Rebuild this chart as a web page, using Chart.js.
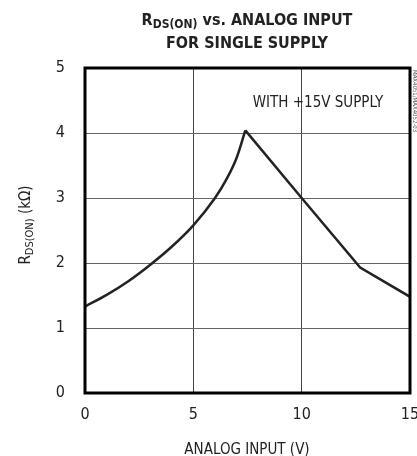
<!DOCTYPE html>
<html>
<head>
<meta charset="utf-8">
<script src="https://cdn.jsdelivr.net/npm/chart.js@4/dist/chart.umd.min.js"></script>
<style>
  body { margin: 0; background: #fff; }
  #wrap { width: 417px; height: 456px; }
</style>
</head>
<body>
<div id="wrap"><canvas id="rdsChart" width="417" height="456"></canvas></div>
<script>
// ---- data ----
const riseX = [0, 1, 2, 3, 4, 5, 6, 6.5, 7, 7.4]
const riseY = [1.33, 1.51, 1.72, 1.97, 2.25, 2.58, 3.0, 3.27, 3.62, 4.04]
const fallX = [7.4, 10, 12.7, 15]
const fallY = [4.04, 3.0, 1.93, 1.48]
const xTicks = [0, 5, 10, 15]
const yTicks = [0, 1, 2, 3, 4, 5]

const FONT = '"Liberation Sans Narrow", "DejaVu Sans Condensed", "Liberation Sans", sans-serif'
const INK = '#222'

const toPoints = (xs, ys) => xs.map((x, i) => ({ x: x, y: ys[i] }))

// text with a subscript part, centred on (x, y)
const drawRich = (ctx, parts, x, y) => {
  let total = 0
  parts.forEach(p => { ctx.font = p.font; total += ctx.measureText(p.t).width })
  let cx = x - total / 2
  ctx.textAlign = 'left'
  ctx.textBaseline = 'alphabetic'
  parts.forEach(p => {
    ctx.font = p.font
    ctx.fillText(p.t, cx, y + (p.dy || 0))
    cx += ctx.measureText(p.t).width
  })
}

const textPlugin = {
  id: 'texts',
  afterDraw(chart) {
    const ctx = chart.ctx
    const a = chart.chartArea
    ctx.save()
    ctx.fillStyle = INK

    // frame
    ctx.strokeStyle = '#000'
    ctx.lineWidth = 3
    ctx.strokeRect(a.left, a.top, a.right - a.left, a.bottom - a.top)

    // title
    const big = 'bold 16px ' + FONT
    const small = 'bold 12px ' + FONT
    drawRich(ctx, [
      { t: 'R', font: big },
      { t: 'DS(ON)', font: small, dy: 3 },
      { t: ' vs. ANALOG INPUT', font: big }
    ], 247, 25)
    drawRich(ctx, [{ t: 'FOR SINGLE SUPPLY', font: big }], 247, 48)

    // note inside the plot
    drawRich(ctx, [{ t: 'WITH +15V SUPPLY', font: '15px ' + FONT }], 318, 107)

    // x axis title
    drawRich(ctx, [{ t: 'ANALOG INPUT (V)', font: '15px ' + FONT }], 247, 454)

    // y axis title (rotated)
    ctx.save()
    ctx.translate(30, 225)
    ctx.rotate(-Math.PI / 2)
    drawRich(ctx, [
      { t: 'R', font: '15px ' + FONT },
      { t: 'DS(ON)', font: '11px ' + FONT, dy: 3 },
      { t: ' (k\u03A9)', font: '15px ' + FONT }
    ], 0, 0)
    ctx.restore()

    // small part code at right edge
    ctx.save()
    ctx.translate(413, 70)
    ctx.rotate(Math.PI / 2)
    ctx.fillStyle = '#555'
    ctx.font = '6px ' + FONT
    ctx.textAlign = 'left'
    ctx.fillText('MAX4051/MAX4052-03', 0, 0)
    ctx.restore()

    ctx.restore()
  }
}

const ctx = document.getElementById('rdsChart').getContext('2d')
const myChart = new Chart(ctx, {
  type: 'scatter',
  data: {
    datasets: [
      {
        data: toPoints(riseX, riseY),
        showLine: true,
        borderColor: INK,
        borderWidth: 2.5,
        pointRadius: 0,
        cubicInterpolationMode: 'monotone'
      },
      {
        data: toPoints(fallX, fallY),
        showLine: true,
        borderColor: INK,
        borderWidth: 2.5,
        pointRadius: 0,
        tension: 0
      }
    ]
  },
  options: {
    responsive: false,
    animation: false,
    layout: { padding: { top: 68, right: 7, left: 0, bottom: 0 } },
    plugins: { legend: { display: false }, tooltip: { enabled: false } },
    scales: {
      x: {
        type: 'linear',
        min: 0,
        max: 15,
        afterFit: s => { s.height = 63; s.paddingLeft = 0; s.paddingRight = 0 },
        afterBuildTicks: s => { s.ticks = xTicks.map(v => ({ value: v })) },
        grid: { color: '#444', lineWidth: 1, drawTicks: false },
        border: { display: false },
        ticks: { padding: 12, color: INK, font: { family: FONT, size: 16 } }
      },
      y: {
        min: 0,
        max: 5,
        afterFit: s => { s.width = 85; s.paddingTop = 0; s.paddingBottom = 0 },
        afterBuildTicks: s => { s.ticks = yTicks.map(v => ({ value: v })) },
        grid: { color: '#666', lineWidth: 1, drawTicks: false },
        border: { display: false },
        ticks: { padding: 20, color: INK, font: { family: FONT, size: 16 } }
      }
    }
  },
  plugins: [textPlugin]
})
</script>
</body>
</html>
